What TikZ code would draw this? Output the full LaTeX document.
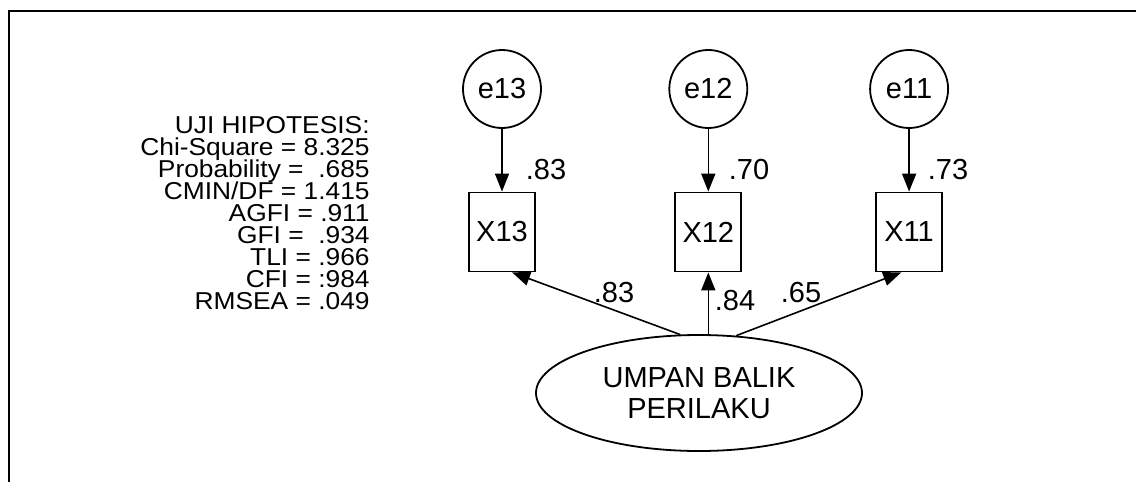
\documentclass[tikz,border=0pt]{standalone}
\usepackage{fontspec}
\setmainfont{Liberation Sans}
\newfontfamily\fitfamily[FakeStretch=1.08]{Liberation Sans}
\usetikzlibrary{arrows.meta,positioning,shapes.geometric}
\newcommand\fitfont{\fitfamily\fontsize{12.2}{11}\selectfont\lineskiplimit=-20pt\relax\lineskip=0pt\relax}

\begin{document}
\begin{tikzpicture}[
  x=0.5pt, y=-0.5pt,
  err/.style={circle, draw, line width=0.9pt, minimum size=39pt, inner sep=0pt, font=\fontsize{14.5}{16}\selectfont},
  obs/.style={rectangle, draw, line width=0.9pt, minimum width=33pt, minimum height=39.5pt, inner sep=0pt, font=\fontsize{14.5}{16}\selectfont},
  lat/.style={ellipse, draw, line width=0.9pt, minimum width=163pt, minimum height=58pt, inner sep=0pt, align=center, font=\fontsize{14.5}{15.3}\selectfont},
  wt/.style={inner sep=0pt, font=\fontsize{14.5}{16}\selectfont},
  arr/.style={-{Triangle[length=9pt,width=7pt]}, line width=0.8pt},
]
\useasboundingbox (0,0) rectangle (1136,482);

% frame
\draw[line width=1.3pt] (1136,11) -| (9,482);

% fit summary
\node[anchor=east, inner sep=0pt, align=right, font=\fitfont] (fit) at (370,213)
  {UJI HIPOTESIS:\\Chi-Square = 8.325\\Probability =\ \ .685\\CMIN/DF = 1.415\\AGFI = .911\\GFI =\ \ .934\\TLI = .966\\CFI = :984\\RMSEA = .049};

% error terms
\node[err] (e13) at (502,89) {e13};
\node[err, right=63.25pt of e13] (e12) {e12};
\node[err, right=60.5pt of e12] (e11) {e11};

% indicators
\node[obs, below=31.35pt of e13] (x13) {X13};
\node[obs, below=31.35pt of e12] (x12) {X12};
\node[obs, below=31.35pt of e11] (x11) {X11};

% latent
\node[lat] (lv) at (699,393) {UMPAN BALIK\\PERILAKU};

% weights
\node[wt] (w13) at (546,170) {.83};
\node[wt] (w12) at (749,170) {.70};
\node[wt] (w11) at (948,170) {.73};
\node[wt] (l13) at (614,293) {.83};
\node[wt] (l12) at (735,301) {.84};
\node[wt] (l11) at (801,293) {.65};

\draw[arr] (e13) -- (x13);
\draw[arr] (e12) -- (x12);
\draw[arr] (e11) -- (x11);
\draw[arr] (lv.108) -- (x13.-76);
\draw[arr] (lv.north -| x12.south) -- (x12.south);
\draw[arr] (lv.57) -- (x11.-101);

\end{tikzpicture}
\end{document}
